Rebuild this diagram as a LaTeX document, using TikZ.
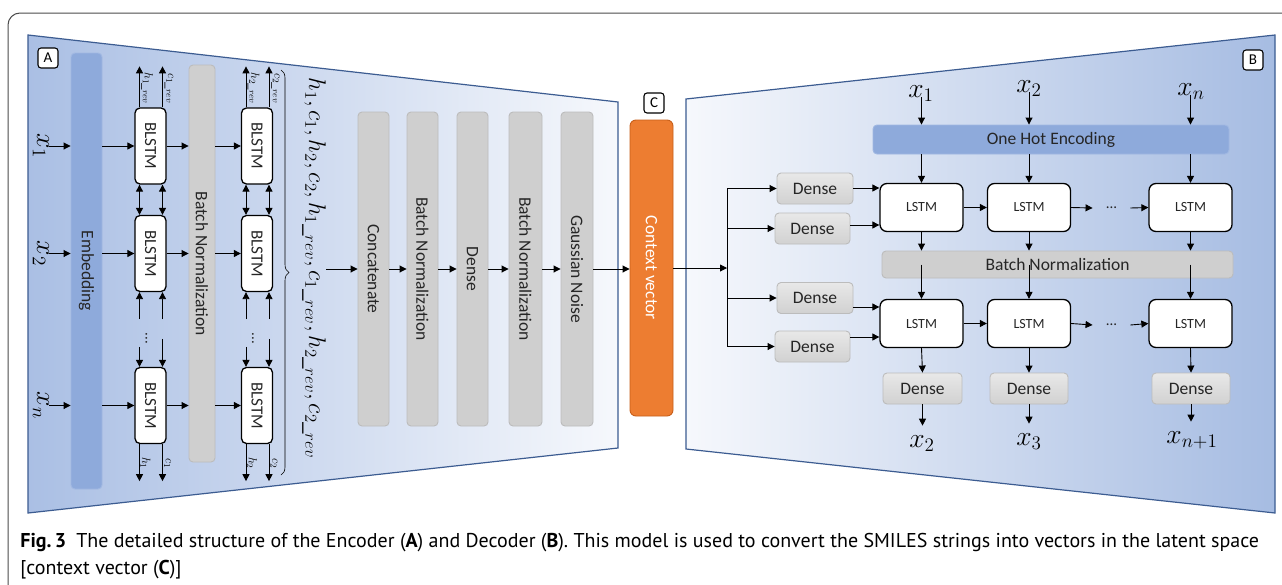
\documentclass[tikz,border=0pt]{standalone}
\usepackage{graphicx}
\usepackage{fontspec}
\setmainfont{Carlito}
\newfontfamily\capfont{PT Sans}
\usetikzlibrary{arrows.meta,calc,decorations.pathreplacing}

\definecolor{encL}{RGB}{170,191,228}
\definecolor{encR}{RGB}{246,248,252}
\definecolor{decL}{RGB}{246,248,252}
\definecolor{decR}{RGB}{166,188,226}
\definecolor{frameblue}{RGB}{60,92,145}
\definecolor{embfill}{RGB}{142,170,219}
\definecolor{embdraw}{RGB}{160,184,226}
\definecolor{barfill}{RGB}{207,207,207}
\definecolor{bardraw}{RGB}{188,188,188}
\definecolor{ctxfill}{RGB}{237,125,49}
\definecolor{ctxdraw}{RGB}{200,95,25}
\definecolor{txt}{RGB}{38,38,38}

\newcommand\fs[1]{\fontsize{#1}{#1}\selectfont}
% large math symbols: the math fonts stop at about 20.7pt, so scale them up
\newcommand\bigsym[1]{\scalebox{1.33}{$#1$}}

\begin{document}
\begin{tikzpicture}[x=1pt,y=-1pt,line width=0.9pt,
  arr/.style={-{Triangle[length=7pt,width=7pt]}},
  darr/.style={{Triangle[length=7pt,width=7pt]}-{Triangle[length=7pt,width=7pt]}},
  tag/.style={draw,fill=white,rounded corners=3pt,line width=1.1pt,minimum width=20,minimum height=20,inner sep=0,font=\fs{15}},
  embbar/.style={fill=embfill,draw=embdraw,rounded corners=4pt,inner sep=0,font=\fs{17.5},text=txt},
  graybar/.style={fill=barfill,draw=bardraw,rounded corners=4pt,inner sep=0,font=\fs{17.5},text=txt},
  blstm/.style={draw,fill=white,rounded corners=5pt,line width=1.3pt,minimum width=31,minimum height=76,inner sep=0,font=\fs{17},text=txt},
  lstm/.style={draw,fill=white,rounded corners=7pt,line width=1.3pt,minimum width=83,minimum height=48,inner sep=0,font=\fs{14},text=txt},
  densebox/.style={draw=bardraw,top color=gray!18,bottom color=gray!36,rounded corners=4pt,minimum width=76,minimum height=31,inner sep=0,font=\fs{17.5},text=txt},
  bigmath/.style={inner sep=0,font=\fs{20}},
  smallmath/.style={inner sep=0,font=\fs{13}},
  dotlbl/.style={inner sep=0,font=\fs{15},text=txt},
]
\useasboundingbox (0,0) rectangle (1282,584);
\fill[white] (0,0) rectangle (1282,584);

% outer frame, open towards the page edges
\draw[line width=1pt,black!70,rounded corners=12pt] (1284,13) -- (8,13) -- (8,586);

% ---------- encoder panel ----------
\shade[left color=encL,right color=encR] (28,35) -- (618,102) -- (618,448) -- (28,513) -- cycle;
\draw[frameblue,line width=1.2pt] (28,35) -- (618,102) -- (618,448) -- (28,513) -- cycle;

% ---------- decoder panel ----------
\shade[left color=decL,right color=decR] (686,99) -- (1275,35) -- (1275,513) -- (686,449) -- cycle;
\draw[frameblue,line width=1.2pt] (686,99) -- (1275,35) -- (1275,513) -- (686,449) -- cycle;

\node[tag] (tA) at (48,58) {A};
\node[tag] (tB) at (1253,60) {B};
\node[tag] (tC) at (654,103) {C};

% embedding and inputs
\node[embbar,minimum width=31,minimum height=436] (emb) at (86.5,271) {\rotatebox{-90}{Embedding}};
\node[bigmath] (ex1) at (41,146) {\rotatebox{-90}{\bigsym{x_1}}};
\node[bigmath] (ex2) at (41,253.5) {\rotatebox{-90}{\bigsym{x_2}}};
\node[bigmath] (exn) at (41,405.5) {\rotatebox{-90}{\bigsym{x_n}}};

% two stacked BLSTM layers
\foreach \r/\yy in {1/146,2/253.5,3/405.5}{
  \node[blstm] (p\r) at (150.5,\yy) {\rotatebox{-90}{BLSTM}};
  \node[blstm] (q\r) at (257,\yy) {\rotatebox{-90}{BLSTM}};
}
\node[graybar,minimum width=26,minimum height=397] (bn1) at (202,263.5) {\rotatebox{-90}{Batch Normalization}};

\draw[arr] (ex1.east) -- (emb.west |- ex1.east);
\draw[arr] (ex2.east) -- (emb.west |- ex2.east);
\draw[arr] (exn.east) -- (emb.west |- exn.east);
\foreach \r in {1,2,3}{
  \draw[arr] (emb.east |- p\r) -- (p\r.west);
  \draw[arr] (p\r.east) -- (bn1.west |- p\r);
  \draw[arr] (bn1.east |- q\r) -- (q\r.west);
}

% vertical state links inside each BLSTM column
\foreach \c/\i in {p/1,q/2}{
  \coordinate (\c tl) at ($(\c1.north)+(-11,-41)$);
  \coordinate (\c tr) at ($(\c1.north)+(12,-41)$);
  \coordinate (\c bl) at ($(\c3.south)+(-11,37)$);
  \coordinate (\c br) at ($(\c3.south)+(12,37)$);
  \draw[arr] (\c1.north -| \c tl) -- (\c tl);
  \draw[arr] (\c1.north -| \c tr) -- (\c tr);
  \draw[arr] (\c3.south -| \c bl) -- (\c bl);
  \draw[arr] (\c3.south -| \c br) -- (\c br);
  \draw[darr] ($(\c1.south)+(-11,0)$) -- ($(\c2.north)+(-11,0)$);
  \draw[darr] ($(\c1.south)+(12,0)$) -- ($(\c2.north)+(12,0)$);
  \draw[arr] ($(\c2.south)+(-11,27)$) -- ($(\c2.south)+(-11,0)$);
  \draw[arr] ($(\c2.south)+(12,27)$) -- ($(\c2.south)+(12,0)$);
  \draw[arr] ($(\c3.north)+(-11,-20)$) -- ($(\c3.north)+(-11,0)$);
  \draw[arr] ($(\c3.north)+(12,-28)$) -- ($(\c3.north)+(12,0)$);
  \node[dotlbl] (\c dots) at ($(\c2.south)+(-4,46)$) {\rotatebox{-90}{...}};
  \node[smallmath] (\c lh) at ($(\c1.north)+(-3.5,-19)$) {\rotatebox{-90}{$h_{\i\_rev}$}};
  \node[smallmath] (\c lc) at ($(\c1.north)+(18.5,-19)$) {\rotatebox{-90}{$c_{\i\_rev}$}};
  \node[smallmath] (\c bh) at ($(\c3.south)+(-5,19)$) {\rotatebox{-90}{$h_{\i}$}};
  \node[smallmath] (\c bc) at ($(\c3.south)+(17,19)$) {\rotatebox{-90}{$c_{\i}$}};
}

% collected states
\draw[decorate,decoration={brace,amplitude=8pt},line width=0.6pt] (281,70) -- (281,475);
\node[inner sep=0,font=\fs{20}] (states) at (314,268)
  {\rotatebox{-90}{\scalebox{1.16}{$h_1,c_1,h_2,c_2,h_{1\_rev},c_{1\_rev},h_{2\_rev},c_{2\_rev}$}}};

% dense head of the encoder
\node[graybar,minimum width=31,minimum height=314] (cat) at (373.5,269) {\rotatebox{-90}{Concatenate}};
\node[graybar,minimum width=31,minimum height=314] (bn2) at (422.5,269) {\rotatebox{-90}{Batch Normalization}};
\node[graybar,minimum width=31,minimum height=314] (den) at (472.5,269) {\rotatebox{-90}{Dense}};
\node[graybar,minimum width=33,minimum height=314] (bn3) at (525.5,269) {\rotatebox{-90}{Batch Normalization}};
\node[graybar,minimum width=32,minimum height=314] (gn) at (577,269) {\rotatebox{-90}{Gaussian Noise}};
\draw[arr] (states.east |- cat.west) -- (cat.west);
\draw[arr] (cat.east) -- (bn2.west);
\draw[arr] (bn2.east) -- (den.west);
\draw[arr] (den.east) -- (bn3.west);
\draw[arr] (bn3.east) -- (gn.west);

% latent code
\node[fill=ctxfill,draw=ctxdraw,rounded corners=6pt,minimum width=43,minimum height=296,inner sep=0,font=\fs{17.5},text=white] (ctx) at (651.5,268) {\rotatebox{-90}{Context vector}};
\draw[arr] (gn.east) -- (ctx.west |- gn.east);

% ---------- decoder ----------
\node[densebox] (dd1) at (815,188.5) {Dense};
\node[densebox,minimum width=75] (dd2) at (812.5,228.5) {Dense};
\node[densebox] (dd3) at (815,298) {Dense};
\node[densebox,minimum width=75] (dd4) at (812.5,346.5) {Dense};
\coordinate (br) at (727,268);
\draw[arr] (ctx.east |- br) -- (br);
\draw (br |- dd1) -- (br |- dd4);
\foreach \d in {dd1,dd2,dd3,dd4}{ \draw[arr] (br |- \d) -- (\d.west); }

\node[embbar,minimum width=356,minimum height=29] (ohe) at (1051,139.5) {One Hot Encoding};
\node[graybar,minimum width=351,minimum height=27] (dbn) at (1057.5,264.5) {Batch Normalization};

\foreach \k/\xx in {1/921.5,2/1029,3/1190.5}{
  \node[lstm] (l1\k) at (\xx,207.5) {LSTM};
  \node[lstm] (l2\k) at (\xx,323.5) {LSTM};
}
\node[densebox,minimum width=79] (do1) at (922.5,388.5) {Dense};
\node[densebox,minimum width=78] (do2) at (1029,388.5) {Dense};
\node[densebox,minimum width=78] (do3) at (1191,388.5) {Dense};

\node[bigmath,anchor=base] (dx1) at (921,97) {\bigsym{x_1}};
\node[bigmath,anchor=base] (dx2) at (1029,92) {\bigsym{x_2}};
\node[bigmath,anchor=base] (dxn) at (1191,95) {\bigsym{x_n}};
\node[bigmath,anchor=base,inner ysep=9pt] (ox1) at (922,447) {\bigsym{x_2}};
\node[bigmath,anchor=base,inner ysep=9pt] (ox2) at (1029,445) {\bigsym{x_3}};
\node[bigmath,anchor=base,inner ysep=9pt] (oxn) at (1192,443) {\bigsym{x_{n+1}}};

\node[dotlbl,minimum width=37] (dots1) at (1111.5,208) {...};
\node[dotlbl,minimum width=37] (dots2) at (1111.5,325) {...};

\foreach \k/\lab in {1/dx1,2/dx2,3/dxn}{
  \draw[arr] (l1\k |- \lab.base) -- (l1\k |- ohe.north);
  \draw[arr] (l1\k |- ohe.south) -- (l1\k.north);
  \draw[arr] (l1\k.south) -- (l1\k |- dbn.north);
  \draw[arr] (l1\k |- dbn.center) -- (l2\k.north);
  \draw[arr] (l2\k.south) -- (do\k.north);
}
\draw[arr] (do1.south) -- (do1.south |- ox1.north);
\draw[arr] (do2.south) -- (do2.south |- ox2.north);
\draw[arr] (do3.south) -- (do3.south |- oxn.north);

\foreach \rr in {1,2}{
  \draw[arr] (l\rr1.east) -- (l\rr2.west);
  \draw[arr] (l\rr2.east) -- (dots\rr.west);
  \draw[arr] (dots\rr.east) -- (l\rr3.west);
}

\coordinate (in11) at ($(l11.west)+(0,-19.5)$);
\coordinate (in12) at ($(l11.west)+(0,17.5)$);
\coordinate (in21) at ($(l21.west)+(0,-16.5)$);
\coordinate (in22) at ($(l21.west)+(0,13.5)$);
\draw[arr] (dd1.east |- in11) -- (in11);
\draw[arr] (dd2.east |- in12) -- (in12);
\draw[arr] (dd3.east |- in21) -- (in21);
\draw[arr] (dd4.east |- in22) -- (in22);

% ---------- caption ----------
\node[anchor=base west,inner sep=0,font=\capfont\fs{20}] (cap1) at (20,547)
  {\textbf{Fig.\,3}\enspace The detailed structure of the Encoder (\textbf{A}) and Decoder (\textbf{B}). This model is used to convert the SMILES strings into vectors in the latent space};
\node[anchor=base west,inner sep=0,font=\capfont\fs{20}] (cap2) at (20,574)
  {[context vector (\textbf{C})]};
\end{tikzpicture}
\end{document}
